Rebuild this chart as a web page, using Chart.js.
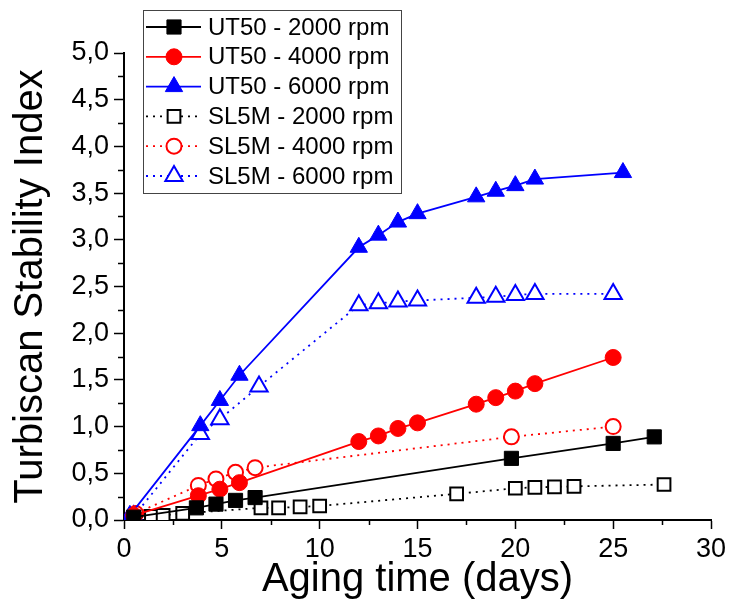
<!DOCTYPE html>
<html>
<head>
<meta charset="utf-8">
<script src="https://cdn.jsdelivr.net/npm/chart.js@4.4.1/dist/chart.umd.min.js"></script>
<style>
  body { margin: 0; background: #fff; }
  #wrap { width: 731px; height: 604px; }
</style>
</head>
<body>
<div id="wrap"><canvas id="chart" width="731" height="604"></canvas></div>
<script>
// values (days, TSI)
const seriesLabels = ['UT50 - 2000 rpm', 'UT50 - 4000 rpm', 'UT50 - 6000 rpm',
                      'SL5M - 2000 rpm', 'SL5M - 4000 rpm', 'SL5M - 6000 rpm'];

const ut2000Days = [0.5, 3.7, 4.7, 5.7, 6.7, 19.8, 25.0, 27.1];
const ut2000Tsi  = [0.03, 0.13, 0.17, 0.21, 0.24, 0.66, 0.82, 0.89];

const ut4000Days = [0.5, 3.8, 4.9, 5.9, 12, 13, 14, 15, 18, 19, 20, 21, 25];
const ut4000Tsi  = [0.05, 0.26, 0.33, 0.40, 0.84, 0.90, 0.98, 1.04, 1.24, 1.31, 1.38, 1.46, 1.74];

const ut6000Days = [0.3, 3.9, 4.9, 5.9, 12, 13, 14, 15, 18, 19, 20, 21, 25.5];
const ut6000Tsi  = [0.05, 1.01, 1.28, 1.55, 2.92, 3.05, 3.19, 3.28, 3.46, 3.52, 3.58, 3.65, 3.72];

const sl2000Days = [0.5, 1.4, 2.0, 3.0, 7.0, 7.9, 9.0, 10.0, 17, 20, 21, 22, 23, 27.6];
const sl2000Tsi  = [0.03, 0.04, 0.05, 0.07, 0.13, 0.13, 0.14, 0.15, 0.28, 0.34, 0.35, 0.355, 0.36, 0.38];

const sl4000Days = [0.6, 3.8, 4.7, 5.7, 6.7, 19.8, 25];
const sl4000Tsi  = [0.07, 0.37, 0.44, 0.51, 0.56, 0.89, 1.00];

const sl6000Days = [0.5, 3.9, 4.9, 6.9, 12, 13, 14, 15, 18, 19, 20, 21, 25];
const sl6000Tsi  = [0.04, 0.92, 1.08, 1.43, 2.30, 2.32, 2.34, 2.35, 2.38, 2.39, 2.41, 2.42, 2.42];

const xTicks = [0, 5, 10, 15, 20, 25, 30];
const yTicks = [0, 0.5, 1, 1.5, 2, 2.5, 3, 3.5, 4, 4.5, 5];

const FONT = "'Liberation Sans', Arial, sans-serif";

function pts(xs, ys) {
    return xs.map((x, i) => ({x: x, y: ys[i]}));
}

function makeSet(label, xs, ys, color, style, filled, radius) {
    return {
        label: label,
        data: pts(xs, ys),
        borderColor: color,
        borderWidth: 1.8,
        borderDash: filled ? [] : [2, 5],
        pointStyle: style,
        pointRadius: radius,
        pointHoverRadius: radius,
        pointBorderWidth: filled ? 1 : 2,
        pointBorderColor: color,
        pointBackgroundColor: filled ? color : '#fff',
        fill: false,
        tension: 0
    };
}

const datasets = [
    makeSet(seriesLabels[0], ut2000Days, ut2000Tsi, '#000', 'rect', true, 10),
    makeSet(seriesLabels[1], ut4000Days, ut4000Tsi, '#ff0000', 'circle', true, 8),
    makeSet(seriesLabels[2], ut6000Days, ut6000Tsi, '#0000ff', 'triangle', true, 10),
    makeSet(seriesLabels[3], sl2000Days, sl2000Tsi, '#000', 'rect', false, 9),
    makeSet(seriesLabels[4], sl4000Days, sl4000Tsi, '#ff0000', 'circle', false, 7.5),
    makeSet(seriesLabels[5], sl6000Days, sl6000Tsi, '#0000ff', 'triangle', false, 10)
];

// minor ticks halfway between the labelled ones
const minorTicks = {
    id: 'minorTicks',
    afterDraw(chart) {
        const ctx = chart.ctx;
        const xs = chart.scales.x, ys = chart.scales.y;
        const left = chart.chartArea.left, bottom = chart.chartArea.bottom;
        ctx.save();
        ctx.strokeStyle = '#000';
        ctx.lineWidth = 1.5;
        ctx.beginPath();
        for (let i = 0; i < xTicks.length - 1; i++) {
            const px = Math.round(xs.getPixelForValue((xTicks[i] + xTicks[i + 1]) / 2)) + 0.5;
            ctx.moveTo(px, bottom);
            ctx.lineTo(px, bottom + 5);
        }
        for (let i = 0; i < yTicks.length - 1; i++) {
            const py = Math.round(ys.getPixelForValue((yTicks[i] + yTicks[i + 1]) / 2)) + 0.5;
            ctx.moveTo(left, py);
            ctx.lineTo(left - 6, py);
        }
        ctx.stroke();
        ctx.restore();
    }
};

// boxed legend in the upper left, like the original
const boxLegend = {
    id: 'boxLegend',
    afterDraw(chart) {
        const ctx = chart.ctx;
        const box = {x: 143, y: 10, w: 258, h: 183};
        ctx.save();
        ctx.fillStyle = '#fff';
        ctx.fillRect(box.x, box.y, box.w, box.h);
        ctx.strokeStyle = '#444';
        ctx.lineWidth = 1;
        ctx.strokeRect(box.x + 0.5, box.y + 0.5, box.w, box.h);
        ctx.font = '24px ' + FONT;
        ctx.textBaseline = 'middle';
        chart.data.datasets.forEach((ds, i) => {
            const cy = 27 + i * 29.8;
            ctx.strokeStyle = ds.borderColor;
            ctx.lineWidth = ds.borderWidth;
            ctx.setLineDash(ds.borderDash);
            ctx.beginPath();
            ctx.moveTo(146, cy);
            ctx.lineTo(201, cy);
            ctx.stroke();
            ctx.setLineDash([]);
            ctx.fillStyle = ds.pointBackgroundColor;
            ctx.strokeStyle = ds.pointBorderColor;
            ctx.lineWidth = ds.pointBorderWidth;
            Chart.helpers.drawPoint(ctx, {
                pointStyle: ds.pointStyle,
                radius: ds.pointRadius,
                rotation: 0,
                borderWidth: ds.pointBorderWidth
            }, 174, cy);
            ctx.fillStyle = '#000';
            ctx.fillText(ds.label, 208, cy + 1);
        });
        ctx.restore();
    }
};

const chart = new Chart(document.getElementById('chart').getContext('2d'), {
    type: 'line',
    data: { datasets: datasets },
    options: {
        responsive: false,
        animation: false,
        layout: { padding: { top: 53, right: 20, left: 0, bottom: 0 } },
        plugins: {
            legend: { display: false },
            tooltip: { enabled: false }
        },
        scales: {
            x: {
                type: 'linear',
                min: 0,
                max: 30,
                afterBuildTicks: (s) => { s.ticks = xTicks.map(v => ({value: v})); },
                afterFit: (s) => { s.height = 84; },
                border: { display: true, color: '#000', width: 2 },
                grid: { drawOnChartArea: false, tickLength: 9, tickColor: '#000', tickWidth: 1.5 },
                ticks: {
                    color: '#000',
                    padding: 4,
                    maxRotation: 0,
                    font: { family: FONT, size: 27 },
                    callback: (v) => String(v)
                },
                title: {
                    display: true,
                    text: 'Aging time (days)',
                    color: '#000',
                    font: { family: FONT, size: 40 },
                    padding: { top: 0, bottom: 0 }
                }
            },
            y: {
                type: 'linear',
                min: 0,
                max: 5,
                afterBuildTicks: (s) => { s.ticks = yTicks.map(v => ({value: v})); },
                afterFit: (s) => { s.width = 124; },
                border: { display: true, color: '#000', width: 2 },
                grid: { drawOnChartArea: false, tickLength: 10, tickColor: '#000', tickWidth: 1.5 },
                ticks: {
                    color: '#000',
                    padding: 5,
                    font: { family: FONT, size: 27 },
                    callback: (v) => v.toFixed(1).replace('.', ',')
                },
                title: {
                    display: true,
                    text: 'Turbiscan Stability Index',
                    color: '#000',
                    font: { family: FONT, size: 40 },
                    padding: { top: 7, bottom: 0 }
                }
            }
        }
    },
    plugins: [minorTicks, boxLegend]
});
</script>
</body>
</html>
